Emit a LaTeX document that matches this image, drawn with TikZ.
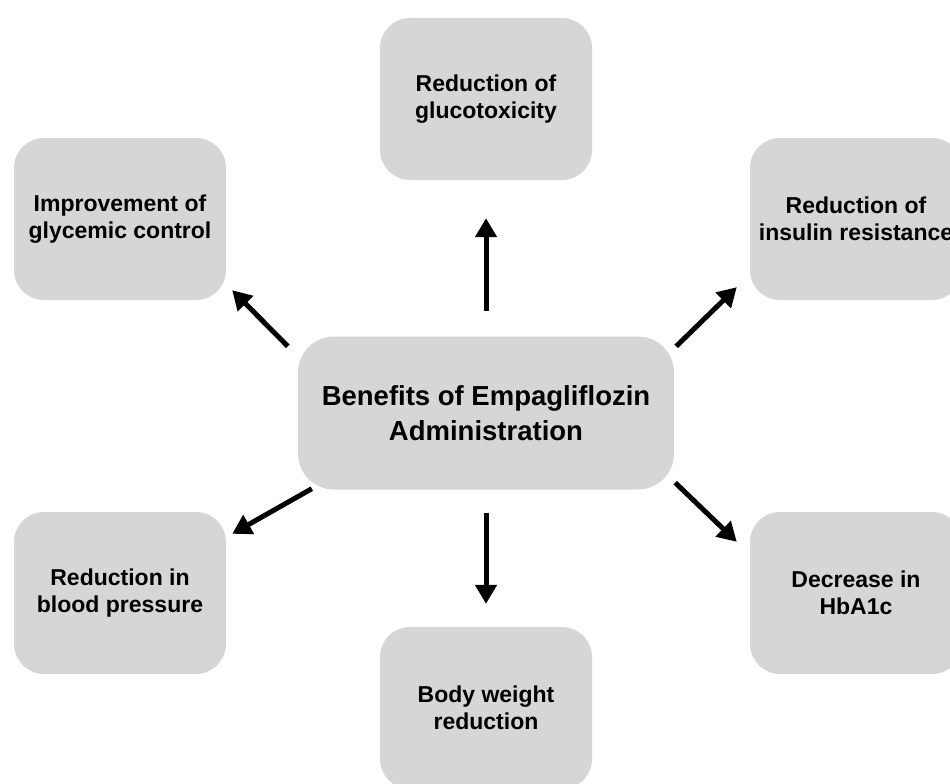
\documentclass[tikz,border=0pt]{standalone}
\usepackage{fontspec}
\setmainfont{Liberation Sans}
\usetikzlibrary{arrows.meta}
\definecolor{boxgray}{HTML}{D6D6D6}
\tikzset{
  gbox/.style={fill=boxgray, draw=none, rounded corners=30pt, minimum width=212pt, minimum height=162pt,
    align=center, font=\bfseries\fontsize{23}{27.5}\selectfont, inner sep=0pt},
  cbox/.style={fill=boxgray, draw=none, rounded corners=36pt, minimum width=376pt, minimum height=153pt,
    align=center, font=\bfseries\fontsize{27.5}{35}\selectfont, inner sep=0pt},
  arr/.style={line width=5pt, -{Triangle[length=19pt,width=21pt]}}
}
\begin{document}
\begin{tikzpicture}[x=1pt,y=-1pt]
\useasboundingbox (0,0) rectangle (950,784);
\clip (0,0) rectangle (950,784);
\fill[white] (0,0) rectangle (950,784);
\node[cbox] (c) at (486,413) {Benefits of Empagliflozin\\Administration};
\node[gbox] (t) at (486,99) {Reduction of\\glucotoxicity};
\node[gbox] (tl) at (120,219) {Improvement of\\glycemic control};
\node[gbox] (tr) at (856,219) {Reduction of\\insulin resistance};
\node[gbox] (bl) at (120,593) {Reduction in\\blood pressure};
\node[gbox] (br) at (856,593) {Decrease in\\HbA1c};
\node[gbox] (b) at (486,708) {Body weight\\reduction};
\draw[arr] ([shift={(0,-25)}]c.north) -- ([shift={(0,38)}]t.south);
\draw[arr] ([shift={(0,23)}]c.south) -- ([shift={(0,-23)}]b.north);
\draw[arr] ([shift={(-10,10)}]c.north west) -- ([shift={(6,-10)}]tl.south east);
\draw[arr] ([shift={(2,10)}]c.north east) -- ([shift={(-13,-13)}]tr.south west);
\draw[arr] ([shift={(14,-1)}]c.south west) -- ([shift={(6,22)}]bl.north east);
\draw[arr] ([shift={(1,-7)}]c.south east) -- ([shift={(-13,30)}]br.north west);
\end{tikzpicture}
\end{document}
